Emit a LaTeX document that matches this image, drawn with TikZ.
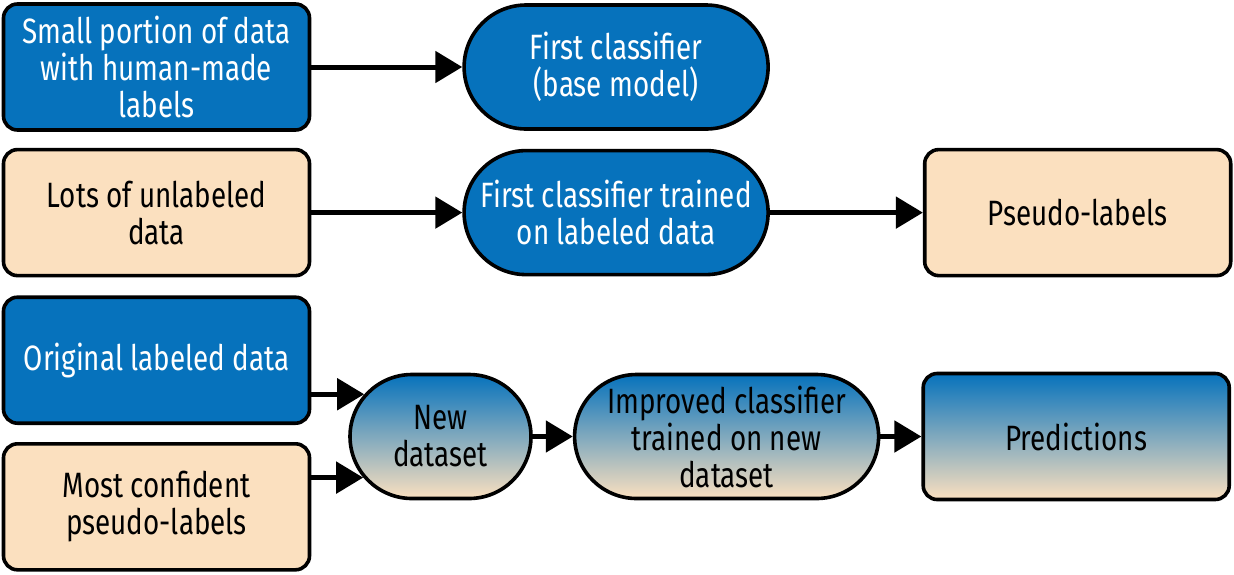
\documentclass[tikz,border=0pt]{standalone}
\usepackage{fontspec}
\setmainfont[FakeStretch=0.79]{Fira Sans}
\usetikzlibrary{positioning,shapes.misc,arrows.meta,calc}
\definecolor{oblue}{RGB}{6,114,188}
\definecolor{otan}{RGB}{251,224,191}
\tikzset{box/.style={rectangle,rounded corners=7pt,draw,line width=1.8pt,minimum width=153pt,minimum height=63pt,align=center,inner sep=0pt,font=\fontsize{17.6}{18.5}\selectfont},
         pill/.style={rounded rectangle,draw,line width=1.8pt,minimum width=152pt,minimum height=62pt,align=center,inner sep=0pt,font=\fontsize{17.6}{18.5}\selectfont},
         bluefill/.style={fill=oblue,text=white},
         tanfill/.style={fill=otan,text=black},
         mixfill/.style={top color=oblue,bottom color=otan,text=black},
         post/.style={-{Triangle[length=13.5pt,width=15.5pt]},line width=2.5pt}
}

\begin{document}
\begin{tikzpicture}
      \useasboundingbox (0,0) rectangle (617pt,-287pt);
      % first row
      \node[box,bluefill] (small) at (78.25pt,-33.5pt) {Small portion of data\\with human-made\\labels};
      \node[pill,bluefill,right=75.5pt of small] (first) {First classifier\\(base model)};
      % second row
      \node[box,tanfill,below=8pt of small] (unlab) {Lots of unlabeled\\data};
      \node[pill,bluefill,right=75.5pt of unlab] (trained) {First classifier trained\\on labeled data};
      \node[box,tanfill,right=76.5pt of trained] (pseudo) {Pseudo-labels};
      % third row
      \node[box,bluefill,below=9pt of unlab] (orig) {Original labeled data};
      \node[box,tanfill,below=8.5pt of orig] (conf) {Most confident\\pseudo-labels};
      \node[pill,mixfill,minimum width=90.5pt] (newdata) at (220.25pt,-218.25pt) {New\\dataset};
      \node[pill,mixfill,right=20pt of newdata] (improved) {Improved classifier\\trained on new\\dataset};
      \node[box,mixfill,right=20.5pt of improved] (pred) {Predictions};

      \draw[post] (small.east) -- (first.west);
      \draw[post] (unlab.east) -- (trained.west);
      \draw[post] (trained.east) -- (pseudo.west);
      \draw[post] (orig.east |- newdata.151) -- (newdata.151);
      \draw[post] (conf.east |- newdata.208) -- (newdata.208);
      \draw[post] (newdata.east) -- (improved.west);
      \draw[post] (improved.east) -- (pred.west);
\end{tikzpicture}
\end{document}
